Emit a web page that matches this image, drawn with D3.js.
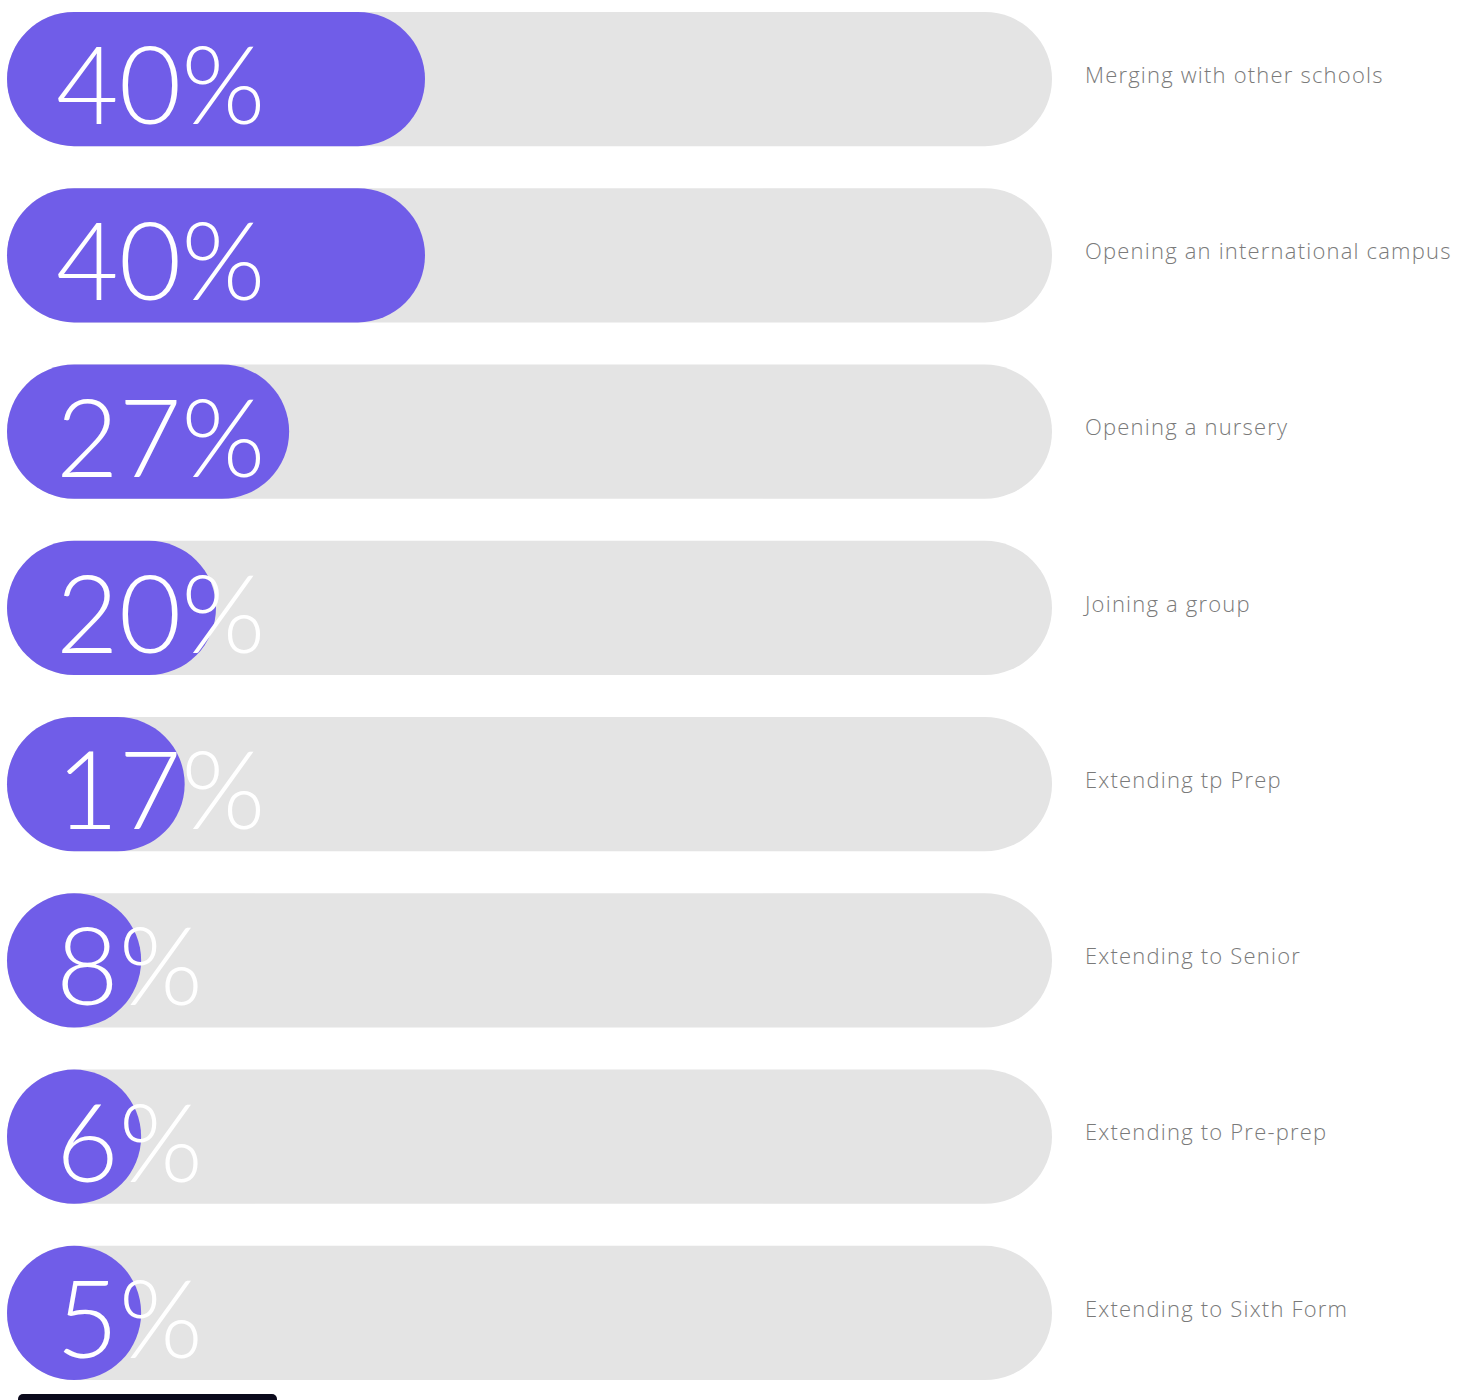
<!DOCTYPE html>
<html>
<head>
<meta charset="utf-8">
<script src="https://cdn.jsdelivr.net/npm/d3@7"></script>
<style>
  html, body { margin: 0; padding: 0; background: #ffffff; }
  svg { display: block; }
</style>
</head>
<body>
<svg id="chart" width="1457" height="1400"></svg>
<script>
// Survey answers: share of schools considering each growth option
const categories = [
  "Merging with other schools",
  "Opening an international campus",
  "Opening a nursery",
  "Joining a group",
  "Extending tp Prep",
  "Extending to Senior",
  "Extending to Pre-prep",
  "Extending to Sixth Form"
];
const values = [40, 40, 27, 20, 17, 8, 6, 5];
const valueLabels = ["40%", "40%", "27%", "20%", "17%", "8%", "6%", "5%"];

const svg = d3.select("#chart");

const trackLeft = 7, trackRight = 1052;
const x = d3.scaleLinear().domain([0, 100]).range([trackLeft, trackRight]);
const y = d3.scaleBand()
  .domain(categories)
  .range([12, 1380])
  .paddingInner(0.239)
  .paddingOuter(0);

const bh = y.bandwidth();
const r = bh / 2;

const rows = svg.append("g")
  .selectAll("g.row")
  .data(categories.map((c, i) => ({ cat: c, v: values[i], label: valueLabels[i] })))
  .join("g")
  .attr("class", "row")
  .attr("transform", d => `translate(0,${y(d.cat)})`);

// grey track
rows.append("rect")
  .attr("x", x(0))
  .attr("y", 0)
  .attr("width", x(100) - x(0))
  .attr("height", bh)
  .attr("rx", r)
  .attr("ry", r)
  .attr("fill", "#e4e4e4");

// purple value pill (never narrower than a full circle)
rows.append("rect")
  .attr("x", x(0))
  .attr("y", 0)
  .attr("width", d => Math.max(x(d.v) - x(0), bh))
  .attr("height", bh)
  .attr("rx", r)
  .attr("ry", r)
  .attr("fill", "#705de8");

// big percentage
rows.append("text")
  .attr("x", 56)
  .attr("y", r + 45)
  .attr("fill", "#ffffff")
  .attr("font-family", "Lato, 'Open Sans', sans-serif")
  .attr("font-weight", 300)
  .attr("font-size", 108)
  .text(d => d.label);

// category name
rows.append("text")
  .attr("x", 1085)
  .attr("y", r - 4)
  .attr("dy", "0.35em")
  .attr("fill", "#7a7a7a")
  .attr("font-family", "'Open Sans', 'Noto Sans', sans-serif")
  .attr("font-weight", 300)
  .attr("font-size", 22)
  .attr("letter-spacing", 1.2)
  .text(d => d.cat);

// dark tab peeking in at the bottom edge
svg.append("rect")
  .attr("x", 18)
  .attr("y", 1394)
  .attr("width", 259)
  .attr("height", 20)
  .attr("rx", 5)
  .attr("fill", "#0b0a1c");
</script>
</body>
</html>
